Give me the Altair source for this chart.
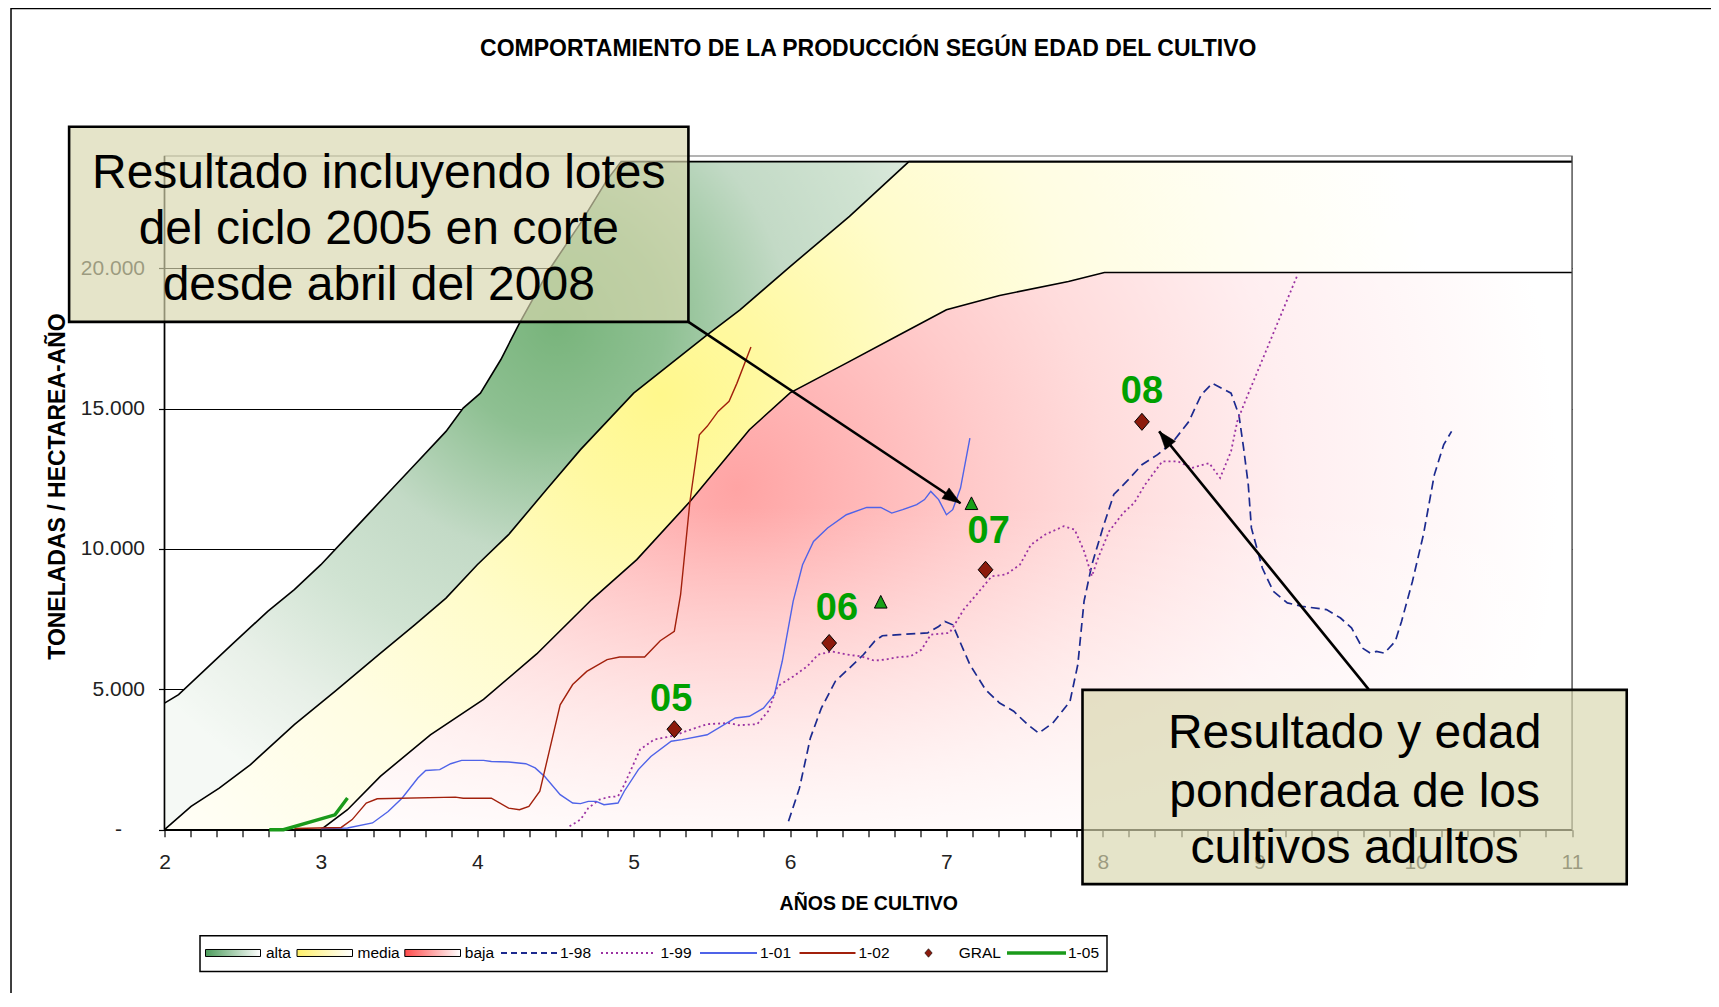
import math
import altair as alt
import pandas as pd

# ---------------- data (x = años de cultivo, y = miles de t / ha-año) ----------------
# upper edges of the three reference bands
alta_x = [2.0, 2.09, 2.26, 2.43, 2.66, 2.83, 3.0, 3.17, 3.32, 3.46, 3.6, 3.8, 3.91, 4.02, 4.15, 4.27, 4.46, 4.66, 4.83, 4.92, 11.0]
alta_y = [4.51, 4.81, 5.7, 6.59, 7.78, 8.55, 9.44, 10.45, 11.34, 12.17, 13.0, 14.19, 15.02, 15.55, 16.74, 18.05, 19.95, 21.61, 23.15, 23.8, 23.8]
media_x = [2.0, 2.17, 2.35, 2.55, 2.83, 3.09, 3.37, 3.6, 3.8, 4.0, 4.2, 4.44, 4.66, 5.0, 5.47, 5.68, 6.0, 6.38, 6.76, 11.0]
media_y = [0.0, 0.83, 1.48, 2.32, 3.74, 4.93, 6.24, 7.3, 8.25, 9.44, 10.51, 12.1, 13.54, 15.55, 17.63, 18.52, 20.06, 21.85, 23.8, 23.8]
baja_x = [2.0, 3.0, 3.17, 3.38, 3.7, 4.04, 4.38, 4.73, 5.02, 5.36, 5.74, 6.0, 6.36, 6.7, 7.0, 7.34, 7.78, 8.01, 11.0]
baja_y = [0.0, 0.0, 0.71, 1.9, 3.38, 4.64, 6.26, 8.19, 9.62, 11.69, 14.25, 15.56, 16.62, 17.63, 18.52, 19.03, 19.53, 19.85, 19.85]

# series
x_98 = [5.99, 6.06, 6.13, 6.20, 6.29, 6.38, 6.47, 6.54, 6.59, 6.70, 6.88, 6.95, 6.99, 7.04, 7.09, 7.15, 7.25, 7.34, 7.43, 7.52,
        7.59, 7.68, 7.79, 7.84, 7.88, 7.93, 8.00, 8.07, 8.16, 8.25, 8.35, 8.45, 8.55, 8.63, 8.70, 8.82, 8.87, 8.90, 8.93, 8.95,
        9.02, 9.09, 9.18, 9.27, 9.43, 9.52, 9.59, 9.66, 9.71, 9.75, 9.80, 9.87, 9.91, 9.98, 10.05, 10.12, 10.18, 10.23]
y_98 = [0.30, 1.48, 3.27, 4.33, 5.29, 5.76, 6.24, 6.71, 6.91, 6.95, 7.01, 7.24, 7.42, 7.30, 6.65, 5.88, 4.99, 4.51, 4.22, 3.74,
        3.44, 3.80, 4.57, 5.88, 8.14, 9.44, 10.75, 11.94, 12.45, 13.0, 13.36, 13.83, 14.54, 15.5, 15.9, 15.55, 14.78, 13.6, 12.29, 10.75,
        9.32, 8.49, 8.08, 7.96, 7.84, 7.54, 7.19, 6.47, 6.29, 6.35, 6.29, 6.71, 7.42, 8.85, 10.51, 12.65, 13.72, 14.19]
x_99 = [4.59, 4.66, 4.71, 4.78, 4.84, 4.90, 4.94, 5.04, 5.13, 5.26, 5.33, 5.47, 5.61, 5.67, 5.79, 5.86, 5.92, 6.02, 6.11, 6.18,
        6.27, 6.36, 6.45, 6.54, 6.61, 6.68, 6.77, 6.84, 6.90, 7.02, 7.11, 7.20, 7.29, 7.38, 7.47, 7.54, 7.63, 7.75, 7.82, 7.88,
        7.93, 7.97, 8.04, 8.13, 8.20, 8.27, 8.38, 8.48, 8.57, 8.68, 8.75, 8.82, 8.86, 8.91, 9.24]
y_99 = [0.12, 0.36, 0.77, 1.07, 1.16, 1.19, 1.60, 2.85, 3.21, 3.35, 3.50, 3.76, 3.80, 3.72, 3.76, 4.22, 5.11, 5.46, 5.82, 6.24,
        6.35, 6.24, 6.18, 6.02, 6.06, 6.14, 6.18, 6.41, 6.95, 7.01, 7.84, 8.43, 9.03, 9.09, 9.44, 10.15, 10.51, 10.81, 10.69, 9.92,
        9.03, 9.68, 10.63, 11.28, 11.64, 12.29, 13.12, 13.12, 12.89, 13.06, 12.53, 13.48, 14.55, 15.26, 19.7]
x_01 = [3.0, 3.17, 3.33, 3.43, 3.52, 3.62, 3.67, 3.76, 3.83, 3.90, 4.04, 4.09, 4.20, 4.31, 4.37, 4.43, 4.53, 4.61, 4.66, 4.71,
        4.76, 4.81, 4.90, 4.94, 5.03, 5.11, 5.24, 5.31, 5.47, 5.65, 5.74, 5.83, 5.90, 5.95, 6.02, 6.08, 6.15, 6.24, 6.36, 6.49,
        6.58, 6.65, 6.72, 6.81, 6.86, 6.90, 6.95, 7.00, 7.04, 7.09, 7.15]
y_01 = [0.04, 0.06, 0.24, 0.65, 1.13, 1.84, 2.11, 2.14, 2.35, 2.47, 2.47, 2.43, 2.41, 2.35, 2.20, 1.90, 1.25, 0.95, 0.93, 1.01,
        1.01, 0.89, 0.95, 1.37, 2.14, 2.61, 3.15, 3.21, 3.38, 3.98, 4.04, 4.33, 4.81, 6.0, 8.14, 9.44, 10.27, 10.75, 11.22, 11.48,
        11.48, 11.28, 11.40, 11.58, 11.76, 12.05, 11.76, 11.22, 11.40, 12.17, 13.95]
x_02 = [2.83, 3.13, 3.20, 3.29, 3.36, 3.86, 3.91, 4.09, 4.20, 4.27, 4.33, 4.40, 4.46, 4.53, 4.61, 4.70, 4.83, 4.91, 5.07, 5.17,
        5.26, 5.30, 5.36, 5.42, 5.47, 5.54, 5.61, 5.66, 5.75]
y_02 = [0.04, 0.08, 0.36, 0.95, 1.10, 1.16, 1.12, 1.12, 0.77, 0.71, 0.83, 1.37, 2.79, 4.45, 5.17, 5.64, 6.06, 6.15, 6.15, 6.73,
        7.07, 8.37, 11.7, 14.07, 14.37, 14.9, 15.26, 15.9, 17.2]
x_05 = [2.67, 2.76, 3.09, 3.17]
y_05 = [0.0, 0.0, 0.53, 1.13]

# GRAL points, labels and triangles
gral_x = [5.26, 6.25, 7.25, 8.25]
gral_y = [3.58, 6.65, 9.26, 14.53]
lab_text = ["05", "06", "07", "08"]
lab_x = [5.24, 6.30, 7.27, 8.25]
lab_y = [4.63, 7.86, 10.59, 15.59]
tri_x = [6.58, 7.16]
tri_y = [8.12, 11.63]

# annotations
box_x1 = [1.39, 7.87]
box_x2 = [5.35, 11.35]
box_y1 = [18.09, -1.94]
box_y2 = [25.04, 4.98]
note_lines = ["Resultado incluyendo lotes", "del ciclo 2005 en corte", "desde abril del 2008",
              "Resultado y edad", "ponderada de los", "cultivos adultos"]
note_x = [3.37, 3.37, 3.37, 9.61, 9.61, 9.61]
note_y = [23.35, 21.36, 19.37, 3.40, 1.29, -0.70]
arr_x1 = [5.35, 9.70]
arr_y1 = [18.09, 5.00]
arr_x2 = [7.09, 8.36]
arr_y2 = [11.63, 14.19]

legend_labels = ["alta", "media", "baja", "1-98", "1-99", "1-01", "1-02", "GRAL", "1-05"]
TITLE = "COMPORTAMIENTO DE LA PRODUCCIÓN SEGÚN EDAD DEL CULTIVO"

# ---------------- layout / style ----------------
W, H = 1407.5, 673.7
XMIN, XMAX, YMAX = 2, 11, 24000
SANS = "Liberation Sans, Arial, Helvetica, sans-serif"
NARROW = "Liberation Sans Narrow, Arial Narrow, Liberation Sans, sans-serif"


def df_xy(xs, ys):
    return pd.DataFrame({"x": xs, "y": [v * 1000 for v in ys]})


xticks = [round(2 + i / 6, 6) for i in range(0, 55)]
AX = alt.Axis(values=xticks,
              labelExpr="abs(datum.value - round(datum.value)) < 0.001 ? format(round(datum.value), 'd') : ''",
              title="AÑOS DE CULTIVO", titleFont=SANS, titleFontSize=19.5, titleFontWeight="bold",
              titleColor="black", titleY=74, titleBaseline="middle",
              domain=False, grid=False, tickSize=7, tickColor="black", tickWidth=1.2,
              labelFont=NARROW, labelFontSize=21, labelColor="#222", labelPadding=15,
              labelOverlap=False, labelFlush=False)
AY = alt.Axis(values=[0, 5000, 10000, 15000, 20000],
              labelExpr="datum.value == 0 ? '-' : format(datum.value / 1000, '.3f')",
              title="TONELADAS / HECTAREA-AÑO", titleFont=SANS, titleFontSize=23, titleFontWeight="bold",
              titleColor="black", titleX=-107, titleY=330, titleAngle=270, titleBaseline="middle",
              domain=False, grid=True, gridColor="black", gridWidth=1.2,
              tickSize=6, tickColor="black", tickWidth=1.2,
              labelFont=NARROW, labelFontSize=21, labelColor="#222",
              labelPadding={"condition": {"test": "datum.value == 0", "value": 37}, "value": 14},
              labelOverlap=False, labelFlush=False)
sx = alt.Scale(domain=[XMIN, XMAX], nice=False, zero=False)
sy = alt.Scale(domain=[0, YMAX], nice=False, zero=False)
EX = alt.X("x:Q", scale=sx, axis=AX)
EY = alt.Y("y:Q", scale=sy, axis=AY, stack=None)


def radial(cx, cy, r, stops):
    return {"gradient": "radial", "x1": cx, "y1": cy, "r1": 0, "x2": cx, "y2": cy, "r2": r,
            "stops": [{"offset": o, "color": c} for o, c in stops]}


G_ALTA = radial(0.278, 0.378, 0.384, [(0, "#78b47b"), (0.2, "#8ec092"), (0.43, "#c3dac6"),
                                      (0.62, "#d0e3d2"), (0.83, "#e8f0e8"), (1, "#f5f9f5")])
G_MEDIA = radial(0.352, 0.428, 0.554, [(0, "#fff88c"), (0.14, "#fff9a2"), (0.35, "#fffcca"),
                                       (0.55, "#fffde2"), (0.8, "#fffef4"), (1, "#ffffff")])
G_BAJA = radial(0.407, 0.455, 0.583, [(0, "#ffa4a4"), (0.3, "#ffcbcb"), (0.45, "#ffdcdc"),
                                      (0.67, "#ffeef0"), (1, "#ffffff")])
G_FADE = {"gradient": "linear", "x1": 0, "y1": 0, "x2": 0, "y2": 1,
          "stops": [{"offset": 0, "color": "rgba(255,255,255,0)"},
                    {"offset": 0.42, "color": "rgba(255,255,255,0)"},
                    {"offset": 1, "color": "rgba(255,255,255,0.85)"}]}

layers = []

# bands (drawn from the widest down, each opaque)
for bx, by, g in [(alta_x, alta_y, G_ALTA), (media_x, media_y, G_MEDIA), (baja_x, baja_y, G_BAJA)]:
    layers.append(alt.Chart(df_xy(bx, by)).mark_area(fill=g, opacity=1).encode(x=EX, y=EY))
layers.append(alt.Chart(df_xy(baja_x, baja_y)).mark_area(fill=G_FADE, opacity=1).encode(x=EX, y=EY))
for bx, by in [(alta_x, alta_y), (media_x, media_y), (baja_x, baja_y)]:
    layers.append(alt.Chart(df_xy(bx, by)).mark_line(color="black", strokeWidth=1.6).encode(x=EX, y=EY))

# axis lines and frame
frame = pd.DataFrame({"x": [XMIN, XMIN], "y": [0, 0], "x2": [XMIN, XMAX], "y2": [YMAX, 0]})
layers.append(alt.Chart(frame).mark_rule(color="black", strokeWidth=1.6).encode(
    x=EX, y=EY, x2="x2:Q", y2="y2:Q"))
rframe = pd.DataFrame({"x": [XMAX], "y": [0], "x2": [XMAX], "y2": [YMAX]})
layers.append(alt.Chart(rframe).mark_rule(color="#444", strokeWidth=1.2).encode(
    x=EX, y=EY, x2="x2:Q", y2="y2:Q"))

# series lines
series = [
    (x_98, y_98, dict(color="#1c2a8f", strokeWidth=1.7, strokeDash=[9, 5])),
    (x_99, y_99, dict(color="#9b32a2", strokeWidth=1.8, strokeDash=[2, 3])),
    (x_01, y_01, dict(color="#4f63e8", strokeWidth=1.4)),
    (x_02, y_02, dict(color="#a2200c", strokeWidth=1.4)),
    (x_05, y_05, dict(color="#1a9a1a", strokeWidth=3.4)),
]
for sxv, syv, st in series:
    layers.append(alt.Chart(df_xy(sxv, syv)).mark_line(**st).encode(x=EX, y=EY))

DIAMOND = "M0,-1.1L0.95,0L0,1.1L-0.95,0Z"
TRI = "M0,-1L1,1L-1,1Z"
layers.append(alt.Chart(df_xy(gral_x, gral_y)).mark_point(
    shape=DIAMOND, size=240, filled=True, fill="#8c1a0c", stroke="black", strokeWidth=1, opacity=1
).encode(x=EX, y=EY))
layers.append(alt.Chart(df_xy(tri_x, tri_y)).mark_point(
    shape=TRI, size=160, filled=True, fill="#17a017", stroke="black", strokeWidth=1, opacity=1
).encode(x=EX, y=EY))
lab_df = df_xy(lab_x, lab_y)
lab_df["t"] = lab_text
layers.append(alt.Chart(lab_df).mark_text(
    font=SANS, fontSize=38, fontWeight="bold", color="#00a000", align="center", baseline="middle"
).encode(x=EX, y=EY, text="t:N"))

# arrows
arr = pd.DataFrame({"x": arr_x1, "y": [v * 1000 for v in arr_y1],
                    "x2": arr_x2, "y2v": [v * 1000 for v in arr_y2]})
layers.append(alt.Chart(arr).mark_rule(color="black", strokeWidth=2.6).encode(
    x=EX, y=EY, x2="x2:Q", y2="y2v:Q"))
pxu, pyu = W / (XMAX - XMIN), H / YMAX
HEAD = "M0,0L-0.6,1.7L0.6,1.7Z"
for i in range(len(arr_x1)):
    dx = (arr_x2[i] - arr_x1[i]) * pxu
    dy = -(arr_y2[i] - arr_y1[i]) * 1000 * pyu
    ang = math.degrees(math.atan2(dx, -dy)) % 360
    layers.append(alt.Chart(df_xy([arr_x2[i]], [arr_y2[i]])).mark_point(
        shape=HEAD, size=450, angle=ang, filled=True, fill="black", stroke="black",
        strokeWidth=0.5, opacity=1).encode(x=EX, y=EY))

# callout boxes
boxes = pd.DataFrame({"x": box_x1, "x2": box_x2, "y": [v * 1000 for v in box_y1],
                      "y2": [v * 1000 for v in box_y2]})
layers.append(alt.Chart(boxes).mark_rect(
    fill="#d8d7af", fillOpacity=0.67, stroke="black", strokeWidth=2.6
).encode(x=EX, x2="x2:Q", y=EY, y2="y2:Q"))
notes = df_xy(note_x, note_y)
notes["t"] = note_lines
layers.append(alt.Chart(notes).mark_text(
    font=SANS, fontSize=48, color="black", align="center", baseline="middle"
).encode(x=EX, y=EY, text="t:N"))

# title
one = alt.Data(values=[{}])
layers.append(alt.Chart(one).mark_text(
    font=SANS, fontSize=23, fontWeight="bold", color="black", align="center", baseline="middle"
).encode(x=alt.value(W / 2), y=alt.value(-107), text=alt.value(TITLE)))

# outer frame
layers.append(alt.Chart(one).mark_rect(fillOpacity=0, stroke="black", strokeWidth=1.5).encode(
    x=alt.value(-153.5), y=alt.value(-147.4), x2=alt.value(W + 400), y2=alt.value(H + 400)))

# legend
LY = 797


def lin(c):
    return {"gradient": "linear", "x1": 0, "y1": 0, "x2": 1, "y2": 0,
            "stops": [{"offset": 0, "color": c}, {"offset": 1, "color": "#ffffff"}]}


layers.append(alt.Chart(one).mark_rect(fill="white", stroke="black", strokeWidth=1.5).encode(
    x=alt.value(35.5), x2=alt.value(942.5), y=alt.value(779.8), y2=alt.value(815.5)))
sw = [(41, 96, lin("#4c9c5c")), (132.5, 188, lin("#fff06a")), (240.3, 296, lin("#ff4c4c"))]
for a, b, g in sw:
    layers.append(alt.Chart(one).mark_rect(fill=g, stroke="black", strokeWidth=1).encode(
        x=alt.value(a), x2=alt.value(b), y=alt.value(LY - 3.5), y2=alt.value(LY + 3.5)))
leg_lines = [(336.5, 394.5, series[0][2]), (436.5, 491.5, series[1][2]), (535.5, 592.5, series[2][2]),
             (635, 691, series[3][2]), (842.5, 901.5, series[4][2])]
for a, b, st in leg_lines:
    st2 = dict(st)
    st2["strokeWidth"] = max(st["strokeWidth"], 2.2) if st["color"] != "#1a9a1a" else 3.6
    if "strokeDash" in st2:
        st2["strokeDash"] = [6, 4] if st2["strokeDash"][0] > 5 else [2, 3]
    layers.append(alt.Chart(one).mark_rule(**st2).encode(
        x=alt.value(a), x2=alt.value(b), y=alt.value(LY)))
layers.append(alt.Chart(one).mark_point(
    shape=DIAMOND, size=60, filled=True, fill="#8c1a0c", stroke="black", strokeWidth=0.6, opacity=1
).encode(x=alt.value(764), y=alt.value(LY)))
leg_pos = [101.5, 193, 300.3, 395.5, 496, 595.5, 694, 794.3, 903.5]
for p, t in zip(leg_pos, legend_labels):
    layers.append(alt.Chart(one).mark_text(
        font=SANS, fontSize=15.5, color="black", align="left", baseline="middle"
    ).encode(x=alt.value(p), y=alt.value(LY), text=alt.value(t)))

chart = alt.layer(*layers).properties(
    width=W, height=H,
    autosize=alt.AutoSizeParams(type="none"),
    padding={"left": 156.5, "top": 148.0, "right": 139.0, "bottom": 163.0},
    background="white",
).configure_view(stroke="#9a9a9a", strokeWidth=1.5)

chart.save("out.html", embed_options={"renderer": "svg", "actions": False})
